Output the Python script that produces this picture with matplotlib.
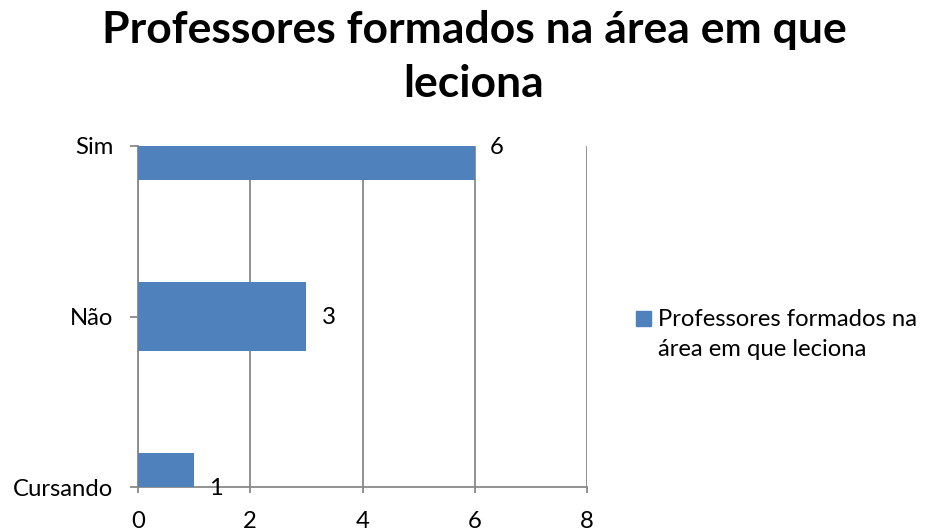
import matplotlib
matplotlib.use('Agg')
import matplotlib.pyplot as plt
from matplotlib.patches import Rectangle

categories = ["Sim", "Não", "Cursando"]
values = [6, 3, 1]
x_ticks = [0, 2, 4, 6, 8]
title_lines = ["Professores formados na área em que", "leciona"]
legend_lines = ["Professores formados na", "área em que leciona"]

bar_color = "#4F81BD"
grid_color = "#898989"
plt.rcParams['font.family'] = ['Lato', 'DejaVu Sans']
fs = 17.2

W, H = 930, 531
fig = plt.figure(figsize=(W/100, H/100), dpi=100)
ax = fig.add_axes([138/W, 1-487/H, (587-138)/W, (487-146)/H])

ypos = list(range(len(categories)))
ax.barh(ypos, values, height=0.4, color=bar_color, zorder=3)
for y, v in zip(ypos, values):
    ax.annotate(str(v), (v, y), xytext=(11, -1), textcoords='offset points',
                ha='left', va='center', fontsize=fs, color='black')

ax.set_xlim(0, 8)
ax.set_ylim(len(categories)-1, 0)
ax.set_xticks(x_ticks)
ax.set_yticks(ypos)
ax.set_yticklabels(categories, fontsize=fs)
ax.set_xticklabels([str(t) for t in x_ticks], fontsize=fs)
ax.xaxis.grid(True, color=grid_color, linewidth=1.3, zorder=0)
for s in ['top', 'right']:
    ax.spines[s].set_visible(False)
for s in ['left', 'bottom']:
    ax.spines[s].set_color(grid_color)
    ax.spines[s].set_linewidth(1.3)
ax.tick_params(axis='both', colors=grid_color, labelcolor='black', width=1.3)
ax.tick_params(axis='x', length=4.5, pad=13)
ax.tick_params(axis='y', length=5.8, pad=12)

# title, two lines
fig.text(474/W, 1-43/H, title_lines[0], ha='center', va='baseline',
         fontsize=32, fontweight='bold')
fig.text(474/W, 1-97/H, title_lines[1], ha='center', va='baseline',
         fontsize=32, fontweight='bold')

# legend
fig.patches.append(Rectangle((636/W, 1-326/H), 15/W, 15/H,
                             transform=fig.transFigure, color=bar_color))
fig.text(658/W, 1-326/H, legend_lines[0], ha='left', va='baseline', fontsize=fs)
fig.text(658/W, 1-356/H, legend_lines[1], ha='left', va='baseline', fontsize=fs)

fig.savefig("out.png", dpi=100)
